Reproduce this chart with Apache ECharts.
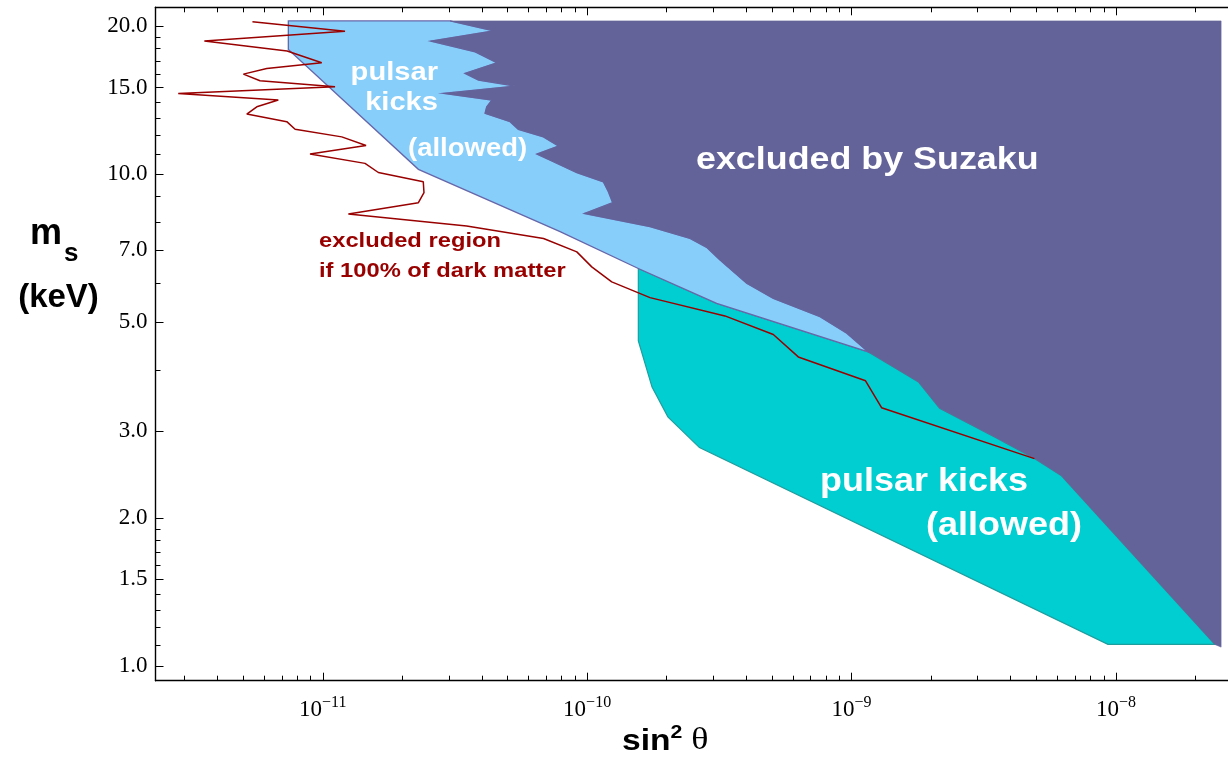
<!DOCTYPE html>
<html>
<head>
<meta charset="utf-8">
<script src="https://cdn.jsdelivr.net/npm/echarts@6/dist/echarts.min.js"></script>
<style>
html,body{margin:0;padding:0;background:#ffffff;}
#chart{width:1228px;height:759px;}
</style>
</head>
<body>
<div id="chart"></div>
<script>
// ---------------- data (sin^2 theta, m_s in keV) ----------------
const xTickMajor = [1e-11, 1e-10, 1e-9, 1e-8];
const xTickMinor = [3e-12,4e-12,5e-12,6e-12,7e-12,8e-12,9e-12,
  2e-11,3e-11,4e-11,5e-11,6e-11,7e-11,8e-11,9e-11,
  2e-10,3e-10,4e-10,5e-10,6e-10,7e-10,8e-10,9e-10,
  2e-9,3e-9,4e-9,5e-9,6e-9,7e-9,8e-9,9e-9,
  2e-8];
const yTickMajor = [1, 1.5, 2, 3, 5, 7, 10, 15, 20];
const yTickMinor = [1.1,1.2,1.3,1.4,1.6,1.7,1.8,1.9,4,6,8,9,11,12,13,14,16,17,18,19];

// Suzaku exclusion boundary (top to bottom)
const suzakuBoundary = [
  [3.03e-11,20.5],[4.42e-11,19.57],[2.56e-11,18.65],[3.77e-11,17.74],[3.99e-11,17.47],
  [4.55e-11,16.85],[3.45e-11,16.03],[3.88e-11,15.54],[5.34e-11,15.11],[2.86e-11,14.60],
  [4.36e-11,14.15],[4.17e-11,13.71],[4.11e-11,13.30],[5.11e-11,12.79],[5.49e-11,12.34],
  [6.83e-11,11.91],[7.78e-11,11.41],[6.45e-11,10.99],[7.45e-11,10.60],[9.14e-11,10.07],
  [1.151e-10,9.65],[1.203e-10,9.21],[1.249e-10,8.75],[9.76e-11,8.32],[1.729e-10,7.82],
  [2.45e-10,7.40],[2.83e-10,7.10],[3.18e-10,6.69],[4.01e-10,6.00],[5.06e-10,5.59],
  [7.60e-10,5.13],[9.59e-10,4.75],[1.157e-9,4.35],[1.790e-9,3.78],[2.153e-9,3.34],
  [3.52e-9,2.91],[4.92e-9,2.64],[6.20e-9,2.44],[2.366e-8,1.106],[2.50e-8,1.092]
];
const suzakuCorner = [[2.50e-8,20.5]];

// pulsar kicks (allowed), upper band: lower edge
const kicksUpperEdge = [
  [7.41e-12,20.5],[7.41e-12,17.94],[2.30e-11,10.23],[7.90e-11,7.64],
  [1.562e-10,6.43],[3.09e-10,5.46],[1.157e-9,4.35]
];
// pulsar kicks (allowed), lower band: left/bottom edge
const kicksLowerEdge = [
  [1.562e-10,6.43],[1.562e-10,4.58],[1.760e-10,3.69],[2.02e-10,3.21],
  [2.66e-10,2.78],[9.33e-9,1.106],[2.366e-8,1.106]
];

// excluded region if 100% of dark matter
const dmLimit = [
  [5.42e-12,20.42],[1.214e-11,19.54],[3.566e-12,18.65],[7.33e-12,17.80],[9.91e-12,16.85],
  [6.14e-12,16.41],[5.01e-12,15.98],[5.79e-12,15.49],[1.113e-11,15.06],[2.84e-12,14.60],
  [6.79e-12,14.15],[5.63e-12,13.71],[5.16e-12,13.25],[7.31e-12,12.79],[7.86e-12,12.34],
  [1.180e-11,11.91],[1.458e-11,11.44],[8.95e-12,10.99],[1.445e-11,10.52],[1.623e-11,10.08],
  [2.40e-11,9.65],[2.415e-11,9.17],[2.30e-11,8.75],[1.25e-11,8.30],[3.50e-11,7.85],
  [6.84e-11,7.40],[9.14e-11,6.95],[1.041e-10,6.48],[1.239e-10,6.04],[1.729e-10,5.61],
  [3.32e-10,5.15],[5.06e-10,4.72],[6.29e-10,4.25],[1.130e-9,3.80],[1.299e-9,3.35],
  [4.92e-9,2.64]
];

const xRange = [2.33e-12, 2.655e-8];
const yRange = [0.933, 21.85];

// ---------------- build ----------------
const L = Math.log10;
const same = (a, b) => a[0] === b[0] && a[1] === b[1];
const idxOf = p => suzakuBoundary.findIndex(q => same(q, p));

const iUpper = idxOf(kicksUpperEdge[kicksUpperEdge.length - 1]);
const iLower = idxOf(kicksLowerEdge[kicksLowerEdge.length - 1]);

const suzakuPoly = suzakuBoundary.concat(suzakuCorner);
const upperPoly = kicksUpperEdge.concat(suzakuBoundary.slice(0, iUpper).reverse());
const lowerPoly = kicksLowerEdge
  .concat(suzakuBoundary.slice(iUpper + 1, iLower).reverse())
  .concat(kicksUpperEdge.slice(kicksUpperEdge.length - 1).concat(kicksUpperEdge.slice(4, kicksUpperEdge.length - 1).reverse()));

function polygonSeries(name, pts, fill, stroke, lw, z) {
  const logPts = pts.map(p => [L(p[0]), L(p[1])]);
  return {
    type: 'custom', name: name, z: z, silent: true, animation: false,
    xAxisIndex: 0, yAxisIndex: 0,
    data: logPts,
    renderItem: function (params, api) {
      if (params.dataIndex !== 0) return null;
      const points = logPts.map(p => api.coord(p));
      return {
        type: 'polygon',
        shape: { points: points },
        style: { fill: fill, stroke: stroke, lineWidth: lw, lineJoin: 'miter' }
      };
    }
  };
}

const XMIN = L(xRange[0]), XMAX = L(xRange[1]);
const YMIN = L(yRange[0]), YMAX = L(yRange[1]);

function xAxisDef(pos, values, len, showLine, showLabel) {
  return {
    type: 'value', min: XMIN, max: XMAX, position: pos,
    axisLine: { show: showLine, onZero: false, lineStyle: { color: '#000', width: 1.4 } },
    axisTick: { show: true, inside: true, length: len, customValues: values.map(L),
      lineStyle: { color: '#000', width: 1 } },
    axisLabel: showLabel ? {
      show: true, customValues: values.map(L), margin: 14,
      formatter: v => '{b|10}{s|\u2212' + (-Math.round(v)) + '}',
      rich: {
        b: { fontFamily: 'Liberation Serif', fontSize: 23, color: '#000', lineHeight: 27, verticalAlign: 'bottom' },
        s: { fontFamily: 'Liberation Serif', fontSize: 16, color: '#000', lineHeight: 11, verticalAlign: 'top' }
      }
    } : { show: false },
    splitLine: { show: false }
  };
}
function yAxisDef(values, len, showLine, showLabel) {
  return {
    type: 'value', min: YMIN, max: YMAX, position: 'left',
    axisLine: { show: showLine, onZero: false, lineStyle: { color: '#000', width: 1.4 } },
    axisTick: { show: true, inside: true, length: len, customValues: values.map(L),
      lineStyle: { color: '#000', width: 1 } },
    axisLabel: showLabel ? {
      show: true, customValues: values.map(L), margin: 8,
      fontFamily: 'Liberation Serif', fontSize: 23, color: '#000',
      formatter: v => Math.pow(10, v).toFixed(1)
    } : { show: false },
    splitLine: { show: false }
  };
}

const white = '#ffffff';
const dred = '#990000';
function txt(text, x, y, font, fill, align, sx) {
  return {
    type: 'text', x: x, y: y, scaleX: sx || 1, z: 100, silent: true,
    style: { text: text, font: font, fill: fill,
      align: align, verticalAlign: 'middle', textAlign: align, textVerticalAlign: 'middle' }
  };
}

const option = {
  animation: false,
  backgroundColor: '#ffffff',
  grid: { left: 155.5, right: 0, top: 7.3, bottom: 78.3, containLabel: false },
  xAxis: [
    xAxisDef('bottom', xTickMajor, 8, true, true),
    xAxisDef('bottom', xTickMinor, 5, false, false),
    xAxisDef('top', xTickMajor, 8, true, false),
    xAxisDef('top', xTickMinor, 5, false, false)
  ],
  yAxis: [
    yAxisDef(yTickMajor, 8, true, true),
    yAxisDef(yTickMinor, 5, false, false)
  ],
  series: [
    polygonSeries('pulsar kicks (lower)', lowerPoly, '#00CED1', '#1F9E9E', 1.2, 1),
    polygonSeries('pulsar kicks (upper)', upperPoly, '#87CEFA', '#6666AA', 1.3, 2),
    polygonSeries('excluded by Suzaku', suzakuPoly, '#636399', '#636399', 0.6, 3),
    {
      type: 'line', name: 'excluded if 100% DM', z: 5, silent: true, animation: false,
      xAxisIndex: 0, yAxisIndex: 0, showSymbol: false, symbol: 'none',
      lineStyle: { color: dred, width: 1.5 },
      data: dmLimit.map(p => [L(p[0]), L(p[1])])
    }
  ],
  graphic: [
    txt('pulsar', 438, 73, 'bold 26px "Liberation Sans"', white, 'right', 1.12),
    txt('kicks', 438, 103, 'bold 26px "Liberation Sans"', white, 'right', 1.12),
    txt('(allowed)', 408, 149, 'bold 25px "Liberation Sans"', white, 'left', 1.1),
    txt('excluded by Suzaku', 696, 160, 'bold 32px "Liberation Sans"', white, 'left', 1.12),
    txt('pulsar kicks', 820, 482, 'bold 33px "Liberation Sans"', white, 'left', 1.09),
    txt('(allowed)', 926, 526, 'bold 33px "Liberation Sans"', white, 'left', 1.09),
    txt('excluded region', 319, 241, 'bold 21px "Liberation Sans"', dred, 'left', 1.13),
    txt('if 100% of dark matter', 319, 271, 'bold 21px "Liberation Sans"', dred, 'left', 1.13),
    txt('m', 30, 234, 'bold 36px "Liberation Sans"', '#000', 'left', 1),
    txt('s', 64, 254, 'bold 26px "Liberation Sans"', '#000', 'left', 1),
    txt('(keV)', 58.5, 298, 'bold 33px "Liberation Sans"', '#000', 'center', 1),
    {
      type: 'text', x: 622, y: 740, scaleX: 1.12, z: 100, silent: true,
      style: {
        text: '{a|sin}{p|2}{t| \u03b8}', fill: '#000',
        align: 'left', verticalAlign: 'middle', textAlign: 'left', textVerticalAlign: 'middle',
        rich: {
          a: { font: 'bold 30px "Liberation Sans"', fill: '#000', lineHeight: 34, verticalAlign: 'bottom' },
          p: { font: 'bold 19px "Liberation Sans"', fill: '#000', lineHeight: 14, verticalAlign: 'top' },
          t: { font: '32px "Liberation Serif"', fill: '#000', lineHeight: 34, verticalAlign: 'bottom' }
        }
      }
    }
  ]
};

const chart = echarts.init(document.getElementById('chart'), null, { renderer: 'canvas' });
chart.setOption(option);
</script>
</body>
</html>
